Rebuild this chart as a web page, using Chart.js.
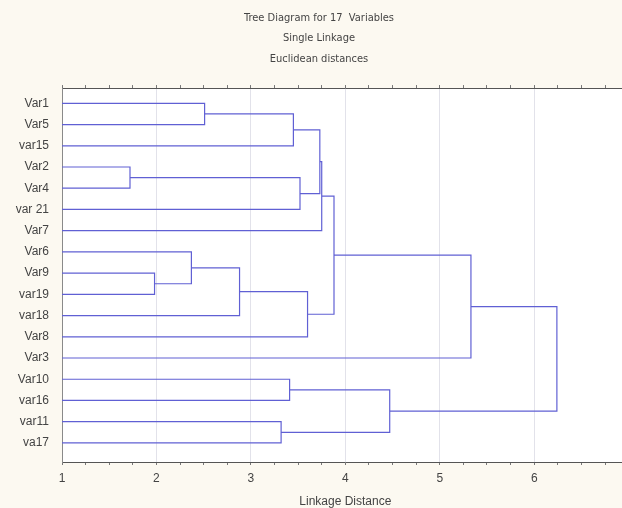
<!DOCTYPE html>
<html lang="en">
<head>
<meta charset="UTF-8">
<title>Tree Diagram for 17 Variables</title>
<script src="https://cdn.jsdelivr.net/npm/chart.js"></script>
<style>
    html, body { margin: 0; padding: 0; background: #fcf9f1; overflow: hidden; }
    #wrap { width: 638px; height: 508px; }
</style>
</head>
<body>
<div id="wrap"><canvas id="chart" width="638" height="508"></canvas></div>

<script>
    // leaf order, top to bottom
    const leaves = ['Var1', 'Var5', 'var15', 'Var2', 'Var4', 'var 21', 'Var7', 'Var6', 'Var9',
        'var19', 'var18', 'Var8', 'Var3', 'Var10', 'var16', 'var11', 'va17'];

    // merges: node ids 0..16 are leaves, merge k creates node 17 + k
    const mergeA = [3, 8, 7, 0, 19, 15, 13, 20, 17, 21, 24, 27, 28, 23, 29, 31];
    const mergeB = [4, 9, 18, 1, 10, 16, 14, 2, 5, 11, 25, 6, 26, 22, 12, 30];
    const mergeDist = [1.72, 1.98, 2.37, 2.51, 2.88, 3.32, 3.41, 3.45, 3.52, 3.60, 3.73, 3.75, 3.88, 4.47, 5.33, 6.24];

    const titleLines = ['Tree Diagram for 17  Variables', 'Single Linkage', 'Euclidean distances'];
    const xMin = 1, xMax = 7;

    // build the dendrogram path from the merges (y: null breaks the line)
    const nodeX = leaves.map(() => xMin);
    const nodeY = leaves.map((_, i) => i + 1);
    const points = [];
    mergeDist.forEach((h, k) => {
        const a = mergeA[k], b = mergeB[k];
        points.push({x: nodeX[a], y: nodeY[a]}, {x: h, y: nodeY[a]},
                    {x: h, y: nodeY[b]}, {x: nodeX[b], y: nodeY[b]}, {x: nodeX[b], y: null});
        nodeX.push(h);
        nodeY.push((nodeY[a] + nodeY[b]) / 2);
    });

    const txt = '#444444';
    const sans = "'Liberation Sans', Arial, sans-serif";
    const narrow = "'Liberation Sans Narrow', 'DejaVu Sans Condensed', 'Liberation Sans', sans-serif";

    const isInt = v => Math.abs(v - Math.round(v)) < 1e-6;

    const plotBg = {
        id: 'plotBg',
        beforeDraw(chart) {
            const a = chart.chartArea, ctx = chart.ctx;
            ctx.save();
            ctx.fillStyle = '#ffffff';
            ctx.fillRect(a.left, a.top, a.right - a.left, a.bottom - a.top);
            ctx.restore();
        }
    };

    const quarterTicks = s => {
        s.ticks = [];
        for (let v = xMin; v <= xMax + 1e-9; v += 0.25) s.ticks.push({value: v});
    };

    new Chart(document.getElementById('chart').getContext('2d'), {
        type: 'line',
        data: {
            datasets: [{
                data: points,
                borderColor: '#6060d4',
                borderWidth: 1.2,
                pointRadius: 0,
                spanGaps: false,
                tension: 0
            }]
        },
        options: {
            responsive: false,
            animation: false,
            layout: {padding: {left: 0, right: 0, top: 0, bottom: 0}},
            plugins: {
                legend: {display: false},
                tooltip: {enabled: false},
                title: {
                    display: true,
                    text: titleLines,
                    color: txt,
                    font: {family: narrow, size: 11, weight: 'normal', lineHeight: 1.85},
                    padding: {top: 8, bottom: 0}
                }
            },
            scales: {
                x: {
                    type: 'linear',
                    position: 'bottom',
                    min: xMin, max: xMax,
                    afterBuildTicks: quarterTicks,
                    afterFit: s => { s.height = 46; },
                    ticks: {
                        autoSkip: false, maxRotation: 0, padding: 6,
                        color: txt, font: {family: sans, size: 12},
                        callback: v => isInt(v) ? String(Math.round(v)) : ''
                    },
                    grid: {
                        color: c => isInt(c.tick.value) ? '#e2e2ea' : 'rgba(0,0,0,0)',
                        tickColor: '#777',
                        tickLength: 3
                    },
                    border: {color: '#555', width: 1},
                    title: {
                        display: true, text: 'Linkage Distance', color: txt,
                        font: {family: sans, size: 12, lineHeight: 1}, padding: {top: 0, bottom: 0}
                    }
                },
                x2: {
                    type: 'linear',
                    position: 'top',
                    min: xMin, max: xMax,
                    afterBuildTicks: quarterTicks,
                    afterFit: s => { s.height = 19; },
                    ticks: {display: false},
                    grid: {drawOnChartArea: false, tickColor: '#777', tickLength: 3},
                    border: {color: '#555', width: 1}
                },
                y: {
                    type: 'linear',
                    reverse: true,
                    min: 0.28, max: 17.9,
                    afterBuildTicks: s => { s.ticks = leaves.map((_, i) => ({value: i + 1})); },
                    afterFit: s => { s.width = 62; },
                    ticks: {
                        autoSkip: false, padding: 5,
                        color: txt, font: {family: sans, size: 12},
                        callback: v => leaves[Math.round(v) - 1]
                    },
                    grid: {display: false},
                    border: {color: '#8a8a8a', width: 1}
                }
            }
        },
        plugins: [plotBg]
    });
</script>
</body>
</html>
